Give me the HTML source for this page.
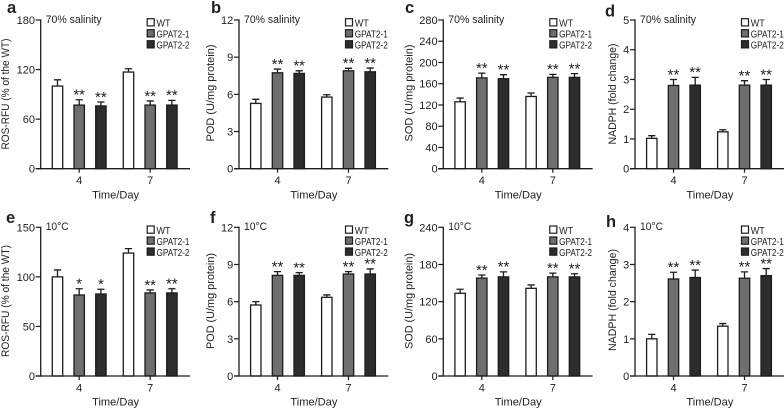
<!DOCTYPE html>
<html lang="en">
<head>
<meta charset="utf-8">
<title>GPAT2 antioxidant measurements</title>
<style>
html,body{margin:0;padding:0;background:#fff;width:784px;height:409px;overflow:hidden}
svg{display:block;filter:blur(0.35px)}
text{font-family:"Liberation Sans",sans-serif;fill:#222}
</style>
</head>
<body>
<svg id="figure" xmlns="http://www.w3.org/2000/svg" width="784" height="409" viewBox="0 0 784 409"></svg>
<script>
// Values order: day 4 (WT, GPAT2-1, GPAT2-2), day 7 (WT, GPAT2-1, GPAT2-2)
const days = ['4', '7'];
const seriesNames = ['WT', 'GPAT2-1', 'GPAT2-2'];

const aTicks = ['0','60','120','180'];
const aValues = [100,77,76,117,77,77];
const aErrTops = [107.6,83.5,80.7,121,82,82.7];
const aStars = ['','**','**','','**','**'];

const bTicks = ['0','3','6','9','12'];
const bValues = [5.27,7.74,7.69,5.78,7.9,7.82];
const bErrTops = [5.6,8.04,7.9,5.97,8.1,8.12];
const bStars = ['','**','**','','**','**'];

const cTicks = ['0','40','80','120','160','200','240','280'];
const cValues = [126,171,169.5,136,172,172];
const cErrTops = [133,180,177,142.5,177.6,179];
const cStars = ['','**','**','','**','**'];

const dTicks = ['0','1','2','3','4','5'];
const dValues = [1.02,2.8,2.81,1.24,2.81,2.81];
const dErrTops = [1.11,3.0,3.07,1.31,2.96,3.0];
const dStars = ['','**','**','','**','**'];

const eTicks = ['0','50','100','150'];
const eValues = [100,81.7,82.7,124,83.8,83.8];
const eErrTops = [107,88,87.5,128.5,86.8,88];
const eStars = ['','*','*','','**','**'];

const fTicks = ['0','3','6','9','12'];
const fValues = [5.73,8.12,8.12,6.35,8.23,8.23];
const fErrTops = [6,8.42,8.34,6.54,8.42,8.64];
const fStars = ['','**','**','','**','**'];

const gTicks = ['0','60','120','180','240'];
const gValues = [133.5,158,160,141.5,160,160];
const gErrTops = [140,163,168,147,166,165];
const gStars = ['','**','**','','**','**'];

const hTicks = ['0','1','2','3','4'];
const hValues = [1.0,2.61,2.65,1.34,2.63,2.7];
const hErrTops = [1.12,2.79,2.85,1.41,2.8,2.89];
const hStars = ['','**','**','','**','**'];

const rosTitle = 'ROS-RFU (% of the WT)';
const podTitle = 'POD (U/mg protein)';
const sodTitle = 'SOD (U/mg protein)';
const nadphTitle = 'NADPH (fold change)';
const salinityNote = '70% salinity';
const coldNote = '10°C';
const xTitle = 'Time/Day';

const panels = [
  {id:'a',ticks:aTicks,values:aValues,errs:aErrTops,stars:aStars,title:rosTitle,note:salinityNote,dx:0,top:20,tOff:-31.5,tLen:111,tCy:94,lx:7,ly:13},
  {id:'b',ticks:bTicks,values:bValues,errs:bErrTops,stars:bStars,title:podTitle,note:salinityNote,dx:198.3,top:20,tOff:-25,tLen:97,tCy:93,lx:211,ly:13},
  {id:'c',ticks:cTicks,values:cValues,errs:cErrTops,stars:cStars,title:sodTitle,note:salinityNote,dx:402.6,top:20,tOff:-31,tLen:97,tCy:93,lx:405,ly:13},
  {id:'d',ticks:dTicks,values:dValues,errs:dErrTops,stars:dStars,title:nadphTitle,note:salinityNote,dx:594.3,top:20,tOff:-19,tLen:101,tCy:94,lx:605,ly:16.5},
  {id:'e',ticks:eTicks,values:eValues,errs:eErrTops,stars:eStars,title:rosTitle,note:coldNote,dx:0,top:227.3,tOff:-31.5,tLen:112,tCy:301,lx:6,ly:223},
  {id:'f',ticks:fTicks,values:fValues,errs:fErrTops,stars:fStars,title:podTitle,note:coldNote,dx:198.3,top:227.3,tOff:-25,tLen:96,tCy:301,lx:210,ly:223},
  {id:'g',ticks:gTicks,values:gValues,errs:gErrTops,stars:gStars,title:sodTitle,note:coldNote,dx:402.6,top:227.3,tOff:-31,tLen:96,tCy:301,lx:404,ly:223},
  {id:'h',ticks:hTicks,values:hValues,errs:hErrTops,stars:hStars,title:nadphTitle,note:coldNote,dx:594.3,top:227.3,tOff:-19,tLen:102,tCy:300,lx:606,ly:227}
];

const NS = 'http://www.w3.org/2000/svg';
const INK = '#1c1c1c';
const FILLS = ['#ffffff','#6f6f6f','#2d2d2d'];
const PLOT_H = 148.7;
const BAR_W = 10.4;

function make(parent, tag, attrs, txt) {
  const el = document.createElementNS(NS, tag);
  for (const k in attrs) el.setAttribute(k, attrs[k]);
  if (txt !== undefined) el.textContent = txt;
  parent.appendChild(el);
  return el;
}

const fig = document.getElementById('figure');

panels.forEach(function (p) {
  const axisX = 40.7 + p.dx;
  const base = p.top + PLOT_H;
  const maxV = Number(p.ticks[p.ticks.length - 1]);
  const yScale = function (v) { return base - (v / maxV) * PLOT_H; };
  const groupCenter = function (i) { return 79.2 + p.dx + i * 71; };
  const barCenter = function (i) {
    const g = Math.floor(i / 3);
    return groupCenter(g) + (i % 3 - 1) * 21.7;
  };

  const g = make(fig, 'g', {});
  
  

  const letter = make(g, 'text', {x:p.lx, y:p.ly, 'font-size':16.5, 'font-weight':'bold', fill:'#000'}, p.id);
  
  

  p.values.forEach(function (v, i) {
    const cx = barCenter(i);
    const err = p.errs[i];
    const eb = make(g, 'path', {
      d:'M' + cx + ' ' + yScale(v) + 'V' + yScale(err) + 'M' + (cx - 3.6) + ' ' + yScale(err) + 'H' + (cx + 3.6),
      stroke:INK, 'stroke-width':1.3, fill:'none'
    });
    
    

    const bar = make(g, 'rect', {
      x:cx - BAR_W / 2, y:yScale(v), width:BAR_W, height:base - yScale(v),
      fill:FILLS[i % 3], stroke:INK, 'stroke-width':1.3
    });
    
    

    if (p.stars[i]) {
      const st = make(g, 'text', {x:cx, y:yScale(err) - 0.2, 'font-size':15, 'text-anchor':'middle'}, p.stars[i]);
      
      
    }
  });

  const yAxis = make(g, 'line', {x1:axisX, x2:axisX, y1:p.top - 0.6, y2:base + 0.6, stroke:INK, 'stroke-width':1.3});
  
  

  const xAxis = make(g, 'line', {x1:axisX - 5, x2:190 + p.dx, y1:base, y2:base, stroke:INK, 'stroke-width':1.3});
  
  

  p.ticks.forEach(function (t) {
    const y = yScale(Number(t));
    const tick = make(g, 'line', {x1:axisX - 5, x2:axisX, y1:y, y2:y, stroke:INK, 'stroke-width':1.2});
    
    
    const lab = make(g, 'text', {x:axisX - 5.7, y:y + 4, 'font-size':11, 'text-anchor':'end'}, t);
    
    
  });

  days.forEach(function (d, i) {
    const cx = groupCenter(i);
    const tick = make(g, 'line', {x1:cx, x2:cx, y1:base, y2:base + 4, stroke:INK, 'stroke-width':1.2});
    
    
    const lab = make(g, 'text', {x:cx, y:base + 15.5, 'font-size':11, 'text-anchor':'middle'}, d);
    
    
  });

  const xt = make(g, 'text', {
    x:115.6 + p.dx, y:base + 29.7, 'font-size':11.2, 'text-anchor':'middle',
    textLength:47, lengthAdjust:'spacingAndGlyphs'
  }, xTitle);
  
  

  const tx = axisX + p.tOff;
  const yt = make(g, 'text', {
    x:tx, y:p.tCy, 'font-size':10.9, 'text-anchor':'middle',
    textLength:p.tLen, lengthAdjust:'spacingAndGlyphs',
    transform:'rotate(-90 ' + tx + ' ' + p.tCy + ')'
  }, p.title);
  
  

  const isSalt = p.note === salinityNote;
  const note = make(g, 'text', {
    x:45.7 + p.dx, y:p.top + 2.8, 'font-size':11,
    textLength:isSalt ? 56 : 23, lengthAdjust:'spacingAndGlyphs'
  }, p.note);
  
  

  seriesNames.forEach(function (name, i) {
    const ly = p.top - 1.3 + i * 11;
    const sw = make(g, 'rect', {x:147.2 + p.dx, y:ly, width:7, height:7.2, fill:FILLS[i], stroke:INK, 'stroke-width':1.2});
    
    
    const lt = make(g, 'text', {
      x:156.5 + p.dx, y:ly + 7.8, 'font-size':10,
      textLength:i === 0 ? 14 : 33, lengthAdjust:'spacingAndGlyphs'
    }, name);
    
    
  });
});
</script>
</body>
</html>
